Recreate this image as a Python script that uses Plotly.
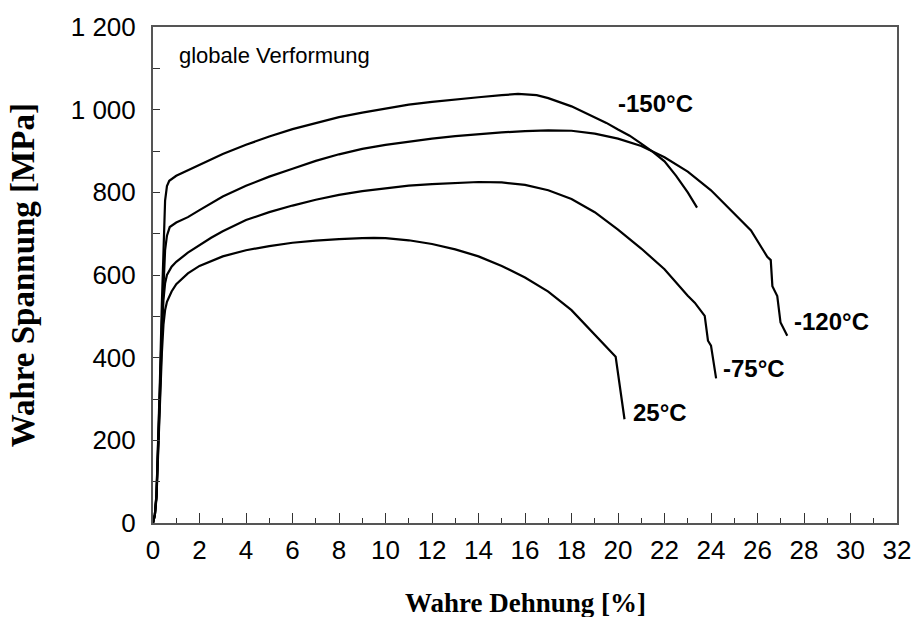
import plotly.graph_objects as go

# True stress-strain curves at four test temperatures
labels = ["25°C", "-75°C", "-120°C", "-150°C"]

strain_25 = [0, 0.08, 0.15, 0.22, 0.3, 0.38, 0.45, 0.52, 0.6, 0.8, 1.0, 1.5, 2, 3, 4, 5, 6, 7, 8, 9,
             9.5, 10, 11, 12, 13, 14, 15, 16, 17, 18, 18.9, 19.9, 20.28]
stress_25 = [0, 20, 60, 150, 290, 410, 480, 515, 535, 560, 578, 604, 622, 645, 660, 670, 678, 683, 687, 689,
             690, 689, 684, 675, 662, 645, 622, 594, 560, 515, 461, 402, 251]

strain_m75 = [0, 0.08, 0.15, 0.22, 0.3, 0.38, 0.45, 0.52, 0.6, 0.8, 1, 1.5, 2, 2.5, 3, 4, 5, 6, 7, 8, 9, 10,
              11, 12, 13, 14, 15, 16, 17, 18, 19, 20, 21, 22, 23, 23.3, 23.73, 23.87, 24.0, 24.22]
stress_m75 = [0, 20, 65, 160, 310, 450, 540, 580, 600, 620, 632, 654, 673, 690, 706, 733, 752, 768, 782, 794, 803, 810,
              816, 820, 823, 825, 824, 818, 805, 784, 752, 710, 664, 614, 550, 533, 501, 441, 429, 350]

strain_m120 = [0, 0.08, 0.15, 0.22, 0.3, 0.38, 0.45, 0.52, 0.6, 0.72, 1, 1.5, 2, 2.5, 3, 4, 5, 6, 7, 8, 9, 10,
               11, 12, 13, 14, 15, 16, 17, 18, 19, 20, 21, 22, 23, 24, 25, 25.72, 26.42, 26.57, 26.64, 26.85,
               26.99, 27.28]
stress_m120 = [0, 20, 70, 170, 330, 480, 590, 660, 695, 716, 727, 740, 757, 774, 790, 816, 838, 857, 876, 892, 905, 915,
               923, 930, 936, 941, 945, 948, 950, 949, 942, 930, 912, 885, 850, 805, 750, 708, 644, 636, 573, 549,
               485, 453]

strain_m150 = [0, 0.08, 0.15, 0.22, 0.3, 0.38, 0.45, 0.52, 0.6, 0.7, 1, 1.5, 2, 3, 4, 5, 6, 7, 8, 9, 10,
               11, 12, 13, 14, 15, 15.7, 16.5, 17, 18, 19, 19.5, 20, 20.5, 21, 21.5, 22, 22.5, 23, 23.4]
stress_m150 = [0, 20, 70, 180, 350, 530, 680, 780, 815, 828, 840, 853, 867, 893, 915, 935, 953, 968, 982, 993, 1003,
               1012, 1019, 1025, 1030, 1035, 1038, 1035, 1028, 1008, 982, 968, 952, 937, 918, 898, 875, 840, 800, 763]

# Label anchor positions (strain, stress) beside each curve end
label_x = [21.8, 25.86, 29.2, 21.6]
label_y = [268, 373, 488, 1016]

x_ticks = list(range(0, 33, 2))
y_ticks = [0, 200, 400, 600, 800, 1000, 1200]
y_ticktext = ["0", "200", "400", "600", "800", "1 000", "1 200"]

curves = [(strain_25, stress_25), (strain_m75, stress_m75),
          (strain_m120, stress_m120), (strain_m150, stress_m150)]

sans = "Liberation Sans, Arial"
serif = "Liberation Serif, Times New Roman"

fig = go.Figure()
for (sx, sy), name in zip(curves, labels):
    fig.add_trace(go.Scatter(x=sx, y=sy, mode="lines", name=name,
                             line=dict(color="black", width=2.2), showlegend=False))

for name, lx, ly in zip(labels, label_x, label_y):
    fig.add_annotation(x=lx, y=ly, text="<b>" + name + "</b>", showarrow=False,
                       font=dict(family=sans, size=24, color="black"))

fig.add_annotation(x=1.02, y=1131, xanchor="left", text="globale Verformung", showarrow=False,
                   font=dict(family=sans, size=22, color="black"))

# Axis titles
fig.add_annotation(xref="paper", yref="paper", x=0.5, y=-0.161, yanchor="middle",
                   text="<b>Wahre Dehnung [%]</b>", showarrow=False,
                   font=dict(family=serif, size=27, color="black"))
fig.add_annotation(xref="paper", yref="paper", x=-0.1744, y=0.5, xanchor="center", textangle=-90,
                   text="<b>Wahre Spannung [MPa]</b>", showarrow=False,
                   font=dict(family=serif, size=33, color="black"))

axis_font = dict(family=sans, size=26, color="black")
fig.update_xaxes(range=[0, 32], tickvals=x_ticks, ticks="inside", ticklen=10, tickwidth=1,
                 tickcolor="#333", showline=True, linecolor="#555", linewidth=2, mirror=True,
                 showgrid=False, zeroline=False, tickfont=axis_font, ticklabelstandoff=3,
                 minor=dict(dtick=1, ticks="inside", ticklen=5, tickcolor="#333", tickwidth=1))
fig.update_yaxes(range=[0, 1200], tickvals=y_ticks, ticktext=y_ticktext, ticks="inside", ticklen=7,
                 tickwidth=1, tickcolor="#333", showline=True, linecolor="#555", linewidth=2, mirror=True,
                 showgrid=False, zeroline=False, tickfont=axis_font, ticklabelstandoff=10,
                 minor=dict(dtick=100, ticks="inside", ticklen=7, tickcolor="#333", tickwidth=1))

fig.update_layout(width=923, height=617, margin=dict(l=153, r=19, t=21, b=94),
                  plot_bgcolor="white", paper_bgcolor="white")

fig.write_html("out.html")
